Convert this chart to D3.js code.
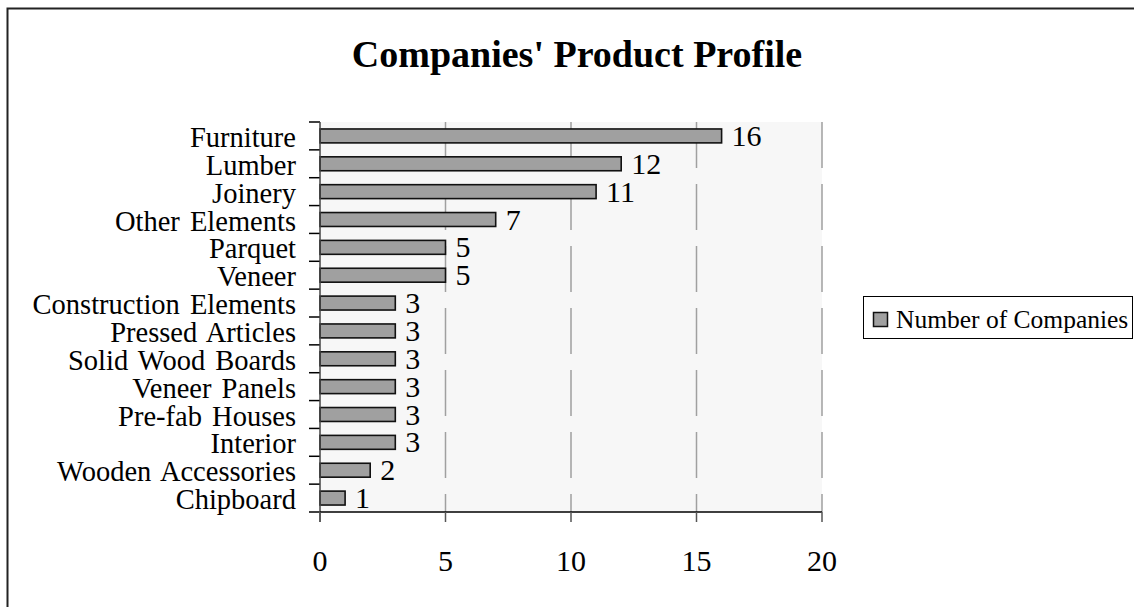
<!DOCTYPE html>
<html>
<head>
<meta charset="utf-8">
<script src="https://cdn.jsdelivr.net/npm/d3@7"></script>
<style>
  html, body { margin: 0; padding: 0; background: #fff; }
  svg { display: block; font-family: "Liberation Serif", "Times New Roman", serif; }
</style>
</head>
<body>
<svg id="chart" width="1134" height="607"></svg>
<script>
const categories = ["Furniture", "Lumber", "Joinery", "Other Elements", "Parquet", "Veneer",
  "Construction Elements", "Pressed Articles", "Solid Wood Boards", "Veneer Panels",
  "Pre-fab Houses", "Interior", "Wooden Accessories", "Chipboard"];
const values = [16, 12, 11, 7, 5, 5, 3, 3, 3, 3, 3, 3, 2, 1];
const xTicks = [0, 5, 10, 15, 20];
const title = "Companies' Product Profile";
const seriesName = "Number of Companies";

const svg = d3.select("#chart");
const plot = { left: 320, right: 822, top: 122, bottom: 512 };

// outer chart border
svg.append("rect").attr("x", 7.5).attr("y", 8.5).attr("width", 1140).attr("height", 610)
  .attr("fill", "#fff").attr("stroke", "#222").attr("stroke-width", 2);

const x = d3.scaleLinear().domain([0, 20]).range([plot.left, plot.right]);
const y = d3.scaleBand().domain(categories).range([plot.top, plot.bottom]).paddingInner(0.5).paddingOuter(0.25);

// plot background
svg.append("rect").attr("x", plot.left).attr("y", plot.top)
  .attr("width", plot.right - plot.left).attr("height", plot.bottom - plot.top)
  .attr("fill", "#f7f7f7");

// gridlines
svg.append("g").selectAll("line").data(xTicks.filter(d => d > 0)).join("line")
  .attr("x1", d => x(d)).attr("x2", d => x(d))
  .attr("y1", plot.top).attr("y2", plot.bottom)
  .attr("stroke", "#a0a0a0").attr("stroke-width", 1.5)
  .attr("stroke-dasharray", "46,16");

// title
svg.append("text").attr("x", 577).attr("y", 67).attr("text-anchor", "middle")
  .attr("font-size", 38).attr("font-weight", "bold").attr("fill", "#000").text(title);

// bars
svg.append("g").selectAll("rect").data(values).join("rect")
  .attr("x", x(0))
  .attr("y", (d, i) => y(categories[i]))
  .attr("width", d => x(d) - x(0))
  .attr("height", y.bandwidth())
  .attr("fill", "#a0a0a0").attr("stroke", "#111").attr("stroke-width", 1.6);

// value labels
svg.append("g").selectAll("text").data(values).join("text")
  .attr("x", d => x(d) + 10)
  .attr("y", (d, i) => y(categories[i]) + y.bandwidth() / 2 + 10)
  .attr("font-size", 30).attr("fill", "#000").text(d => d);

// category axis (left)
const yBounds = d3.range(categories.length + 1).map(i => plot.top + i * (plot.bottom - plot.top) / categories.length);
svg.append("g").selectAll("line").data(yBounds).join("line")
  .attr("x1", plot.left - 11).attr("x2", plot.left)
  .attr("y1", d => d).attr("y2", d => d)
  .attr("stroke", "#000").attr("stroke-width", 1.5);
svg.append("line").attr("x1", plot.left).attr("x2", plot.left)
  .attr("y1", plot.top).attr("y2", plot.bottom + 10)
  .attr("stroke", "#444").attr("stroke-width", 1.5);
svg.append("g").selectAll("text").data(categories).join("text")
  .attr("x", 296)
  .attr("y", d => y(d) + y.bandwidth() / 2 + 11)
  .attr("text-anchor", "end").attr("font-size", 28.5).attr("word-spacing", 3)
  .attr("fill", "#000").text(d => d);

// value axis (bottom)
svg.append("line").attr("x1", plot.left).attr("x2", plot.right)
  .attr("y1", plot.bottom).attr("y2", plot.bottom)
  .attr("stroke", "#000").attr("stroke-width", 1.5);
svg.append("g").selectAll("line").data(xTicks).join("line")
  .attr("x1", d => x(d)).attr("x2", d => x(d))
  .attr("y1", plot.bottom).attr("y2", plot.bottom + 10)
  .attr("stroke", "#555").attr("stroke-width", 1.5);
svg.append("g").selectAll("text").data(xTicks).join("text")
  .attr("x", d => x(d)).attr("y", 571)
  .attr("text-anchor", "middle").attr("font-size", 30).attr("fill", "#000").text(d => d);

// legend
const lg = svg.append("g");
lg.append("rect").attr("x", 863.5).attr("y", 296.5).attr("width", 269).attr("height", 42)
  .attr("fill", "#fff").attr("stroke", "#000").attr("stroke-width", 1);
lg.append("rect").attr("x", 873.5).attr("y", 312.5).attr("width", 14).attr("height", 14)
  .attr("fill", "#a0a0a0").attr("stroke", "#111").attr("stroke-width", 1.5);
lg.append("text").attr("x", 896).attr("y", 328).attr("font-size", 25.5).attr("fill", "#000")
  .text(seriesName);
</script>
</body>
</html>
